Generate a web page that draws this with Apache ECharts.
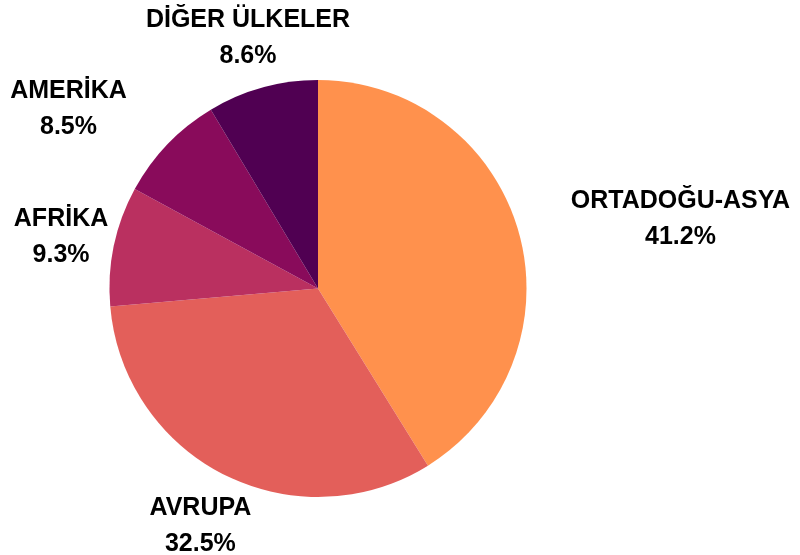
<!DOCTYPE html>
<html>
<head>
<meta charset="utf-8">
<script src="https://cdn.jsdelivr.net/npm/echarts@6/dist/echarts.min.js"></script>
<style>
  html, body { margin: 0; padding: 0; background: #fff; }
  #chart { width: 800px; height: 555px; }
</style>
</head>
<body>
<div id="chart"></div>
<script>
// ── data (clockwise from 12 o'clock) ──
const regions = ['ORTADOĞU-ASYA', 'AVRUPA', 'AFRİKA', 'AMERİKA', 'DİĞER ÜLKELER']
const shares = [41.2, 32.5, 9.3, 8.5, 8.6]

// magma-like palette
const COLORS = ['#FF914D', '#E35F5A', '#BA3060', '#890B5B', '#500052']

// some labels sit beside their anchor point rather than centred on it
const labelNudge = {
  'ORTADOĞU-ASYA': [110, 0],
  'AMERİKA': [-60, 0],
}

const CENTER = [318, 288.5]
const RADIUS = 208.5
const LABEL_CENTER = [318, 291]
const LABEL_DIST = 259.5

const chart = echarts.init(document.getElementById('chart'))
chart.setOption({
  animation: false,
  textStyle: { fontFamily: "'Liberation Sans', Arial, sans-serif" },
  series: [
    {
      type: 'pie',
      center: CENTER,
      radius: [0, RADIUS],
      silent: true,
      label: { show: false },
      labelLine: { show: false },
      itemStyle: { borderWidth: 0 },
      data: regions.map((name, i) => ({
        name,
        value: shares[i],
        itemStyle: { color: COLORS[i] },
      })),
    },
    {
      // invisible ring that only carries the labels
      type: 'pie',
      center: LABEL_CENTER,
      radius: [0, LABEL_DIST * 2],
      silent: true,
      itemStyle: { color: 'rgba(0,0,0,0)', borderWidth: 0 },
      labelLine: { show: false },
      label: {
        show: true,
        position: 'inside',
        formatter: '{b}\n{c}%',
        color: '#000',
        fontSize: 25,
        fontWeight: 'bold',
        lineHeight: 36,
        align: 'center',
      },
      data: regions.map((name, i) => ({
        name,
        value: shares[i],
        label: labelNudge[name] ? { offset: labelNudge[name] } : undefined,
      })),
    },
  ],
})
</script>
</body>
</html>
